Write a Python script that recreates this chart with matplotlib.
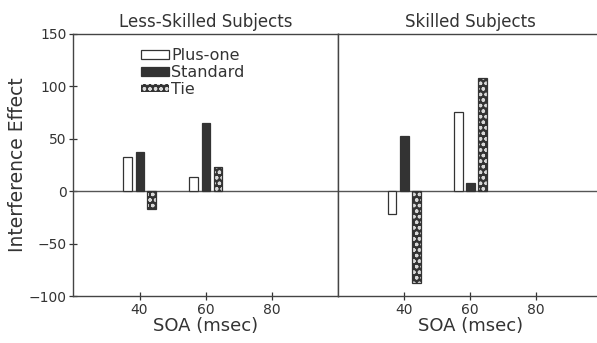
import matplotlib.pyplot as plt
import numpy as np
from matplotlib.patches import Patch

plt.rcParams['font.family'] = ['DejaVu Sans']
plt.rcParams['hatch.linewidth'] = 0.9

soa = np.array([40, 60])
conditions = ['Plus-one', 'Standard', 'Tie']
panels = ['Less-Skilled Subjects', 'Skilled Subjects']

# interference effect per panel, per condition, at SOA 40 and 60
less_skilled = {'Plus-one': [33, 14], 'Standard': [37, 65], 'Tie': [-17, 23]}
skilled = {'Plus-one': [-22, 76], 'Standard': [53, 8], 'Tie': [-88, 108]}

ink = '#333333'
dots = '#d8d8d8'
offsets = {'Plus-one': -3.6, 'Standard': 0.1, 'Tie': 3.7}
width = 2.6

fig = plt.figure(figsize=(5.97, 3.43), dpi=100)
ax1 = fig.add_axes([0.123, 0.137, 0.443, 0.764])
ax2 = fig.add_axes([0.566, 0.137, 0.443, 0.764], sharey=ax1)


def draw_panel(ax, data, title):
    for cond in conditions:
        x = soa + offsets[cond]
        if cond == 'Plus-one':
            ax.bar(x, data[cond], width, color='white', edgecolor=ink, linewidth=0.9, zorder=3)
        elif cond == 'Standard':
            ax.bar(x, data[cond], width, color=ink, edgecolor=ink, linewidth=0.9, zorder=3)
        else:
            ax.bar(x, data[cond], width, color=ink, edgecolor=dots, linewidth=0,
                   hatch='ooo', zorder=3)
            ax.bar(x, data[cond], width, fill=False, edgecolor=ink, linewidth=0.9, zorder=4)
    ax.axhline(0, color='#555555', linewidth=1.0, zorder=2)
    ax.set_xlim(20, 100)
    ax.set_ylim(-100, 150)
    ax.set_xticks([40, 60, 80])
    ax.set_title(title, fontsize=12, color=ink, pad=5)
    ax.set_xlabel('SOA (msec)', fontsize=13, color=ink, labelpad=0)
    ax.tick_params(direction='inout', length=6, width=0.9, colors=ink,
                   labelsize=10, pad=2)
    for s in ax.spines.values():
        s.set_color('#444444')
        s.set_linewidth(1.0)


draw_panel(ax1, less_skilled, panels[0])
draw_panel(ax2, skilled, panels[1])

ax1.set_yticks([-100, -50, 0, 50, 100, 150])
ax1.set_ylabel('Interference Effect', fontsize=13.5, color=ink, labelpad=1)
ax2.tick_params(axis='y', left=False, labelleft=False)
ax2.spines['right'].set_visible(False)

handles = [
    Patch(facecolor='white', edgecolor=ink, linewidth=0.9),
    Patch(facecolor=ink, edgecolor=ink, linewidth=0.9),
    Patch(facecolor=ink, edgecolor=dots, linewidth=0, hatch='ooo'),
]
ax1.legend(handles, conditions, loc='upper left', bbox_to_anchor=(0.255, 0.945),
           frameon=False, fontsize=11.5, handlelength=1.75, handleheight=0.45,
           handletextpad=0.15, labelspacing=0.1, labelcolor=ink, borderaxespad=0,
           borderpad=0)

fig.savefig('out.png', dpi=100)
